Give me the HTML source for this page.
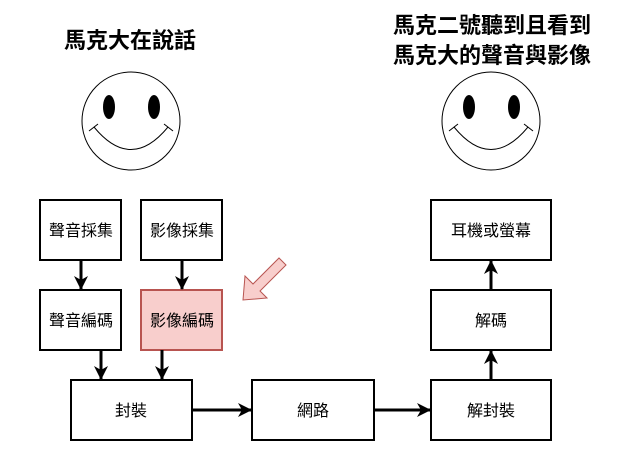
<!DOCTYPE html>
<html><head><meta charset="utf-8"><style>
html,body{margin:0;padding:0;background:#fff;}
svg{display:block;}
text{font-family:"Liberation Sans","Noto Sans CJK TC",sans-serif;}
</style></head><body>
<svg width="621" height="451" viewBox="0 0 621 451" xmlns="http://www.w3.org/2000/svg">
<defs>
<marker id="ah" markerWidth="14" markerHeight="14" refX="13" refY="7" orient="auto" markerUnits="userSpaceOnUse">
<path d="M0,0 L14,7 L0,14 L4,7 z" fill="#000"/>
</marker>
</defs>
<text x="130" y="48" font-size="22" font-weight="bold" text-anchor="middle">馬克大在說話</text>
<text x="492" y="33" font-size="22" font-weight="bold" text-anchor="middle">馬克二號聽到且看到</text>
<text x="492" y="63" font-size="22" font-weight="bold" text-anchor="middle">馬克大的聲音與影像</text>

<g fill="none" stroke="#000" stroke-width="1">
<ellipse cx="131" cy="121" rx="49" ry="49"/>
<path d="M94,127 Q131,172 168,127"/>
<path d="M89,131 L98,124 M164,124 L173,131"/>
<ellipse cx="491" cy="121" rx="49" ry="49"/>
<path d="M454,127 Q491,172 528,127"/>
<path d="M449,131 L458,124 M524,124 L533,131"/>
</g>
<g fill="#000">
<ellipse cx="109" cy="107" rx="6" ry="12"/>
<ellipse cx="154" cy="107" rx="6" ry="12"/>
<ellipse cx="469" cy="107" rx="6" ry="12"/>
<ellipse cx="514" cy="107" rx="6" ry="12"/>
</g>

<g stroke="#000" stroke-width="2" fill="#fff">
<rect x="40" y="200" width="81" height="60"/>
<rect x="141" y="200" width="81" height="60"/>
<rect x="40" y="290" width="81" height="60"/>
<rect x="141" y="290" width="81" height="60" fill="#f8cecc" stroke="#b85450"/>
<rect x="71" y="380" width="121" height="60"/>
<rect x="252" y="380" width="122" height="60"/>
<rect x="431" y="380" width="120" height="60"/>
<rect x="431" y="290" width="120" height="60"/>
<rect x="431" y="200" width="120" height="60"/>
</g>

<g stroke="#000" stroke-width="3" fill="none" marker-end="url(#ah)">
<line x1="81" y1="260" x2="81" y2="289"/>
<line x1="182" y1="260" x2="182" y2="289"/>
<line x1="101" y1="350" x2="101" y2="379"/>
<line x1="162" y1="350" x2="162" y2="379"/>
<line x1="192" y1="410" x2="251" y2="410"/>
<line x1="374" y1="410" x2="430" y2="410"/>
<line x1="491" y1="380" x2="491" y2="351"/>
<line x1="491" y1="290" x2="491" y2="261"/>
</g>

<polygon points="243,300 245,276 253,284 279,258 286,265 260,291 267,298" fill="#f8cecc" stroke="#b85450" stroke-width="1"/>

<g font-size="16" text-anchor="middle">
<text x="81" y="236">聲音採集</text>
<text x="182" y="236">影像採集</text>
<text x="81" y="326">聲音編碼</text>
<text x="182" y="326">影像編碼</text>
<text x="131" y="416">封裝</text>
<text x="313" y="416">網路</text>
<text x="491" y="416">解封裝</text>
<text x="491" y="326">解碼</text>
<text x="491" y="236">耳機或螢幕</text>
</g>
</svg>
</body></html>
